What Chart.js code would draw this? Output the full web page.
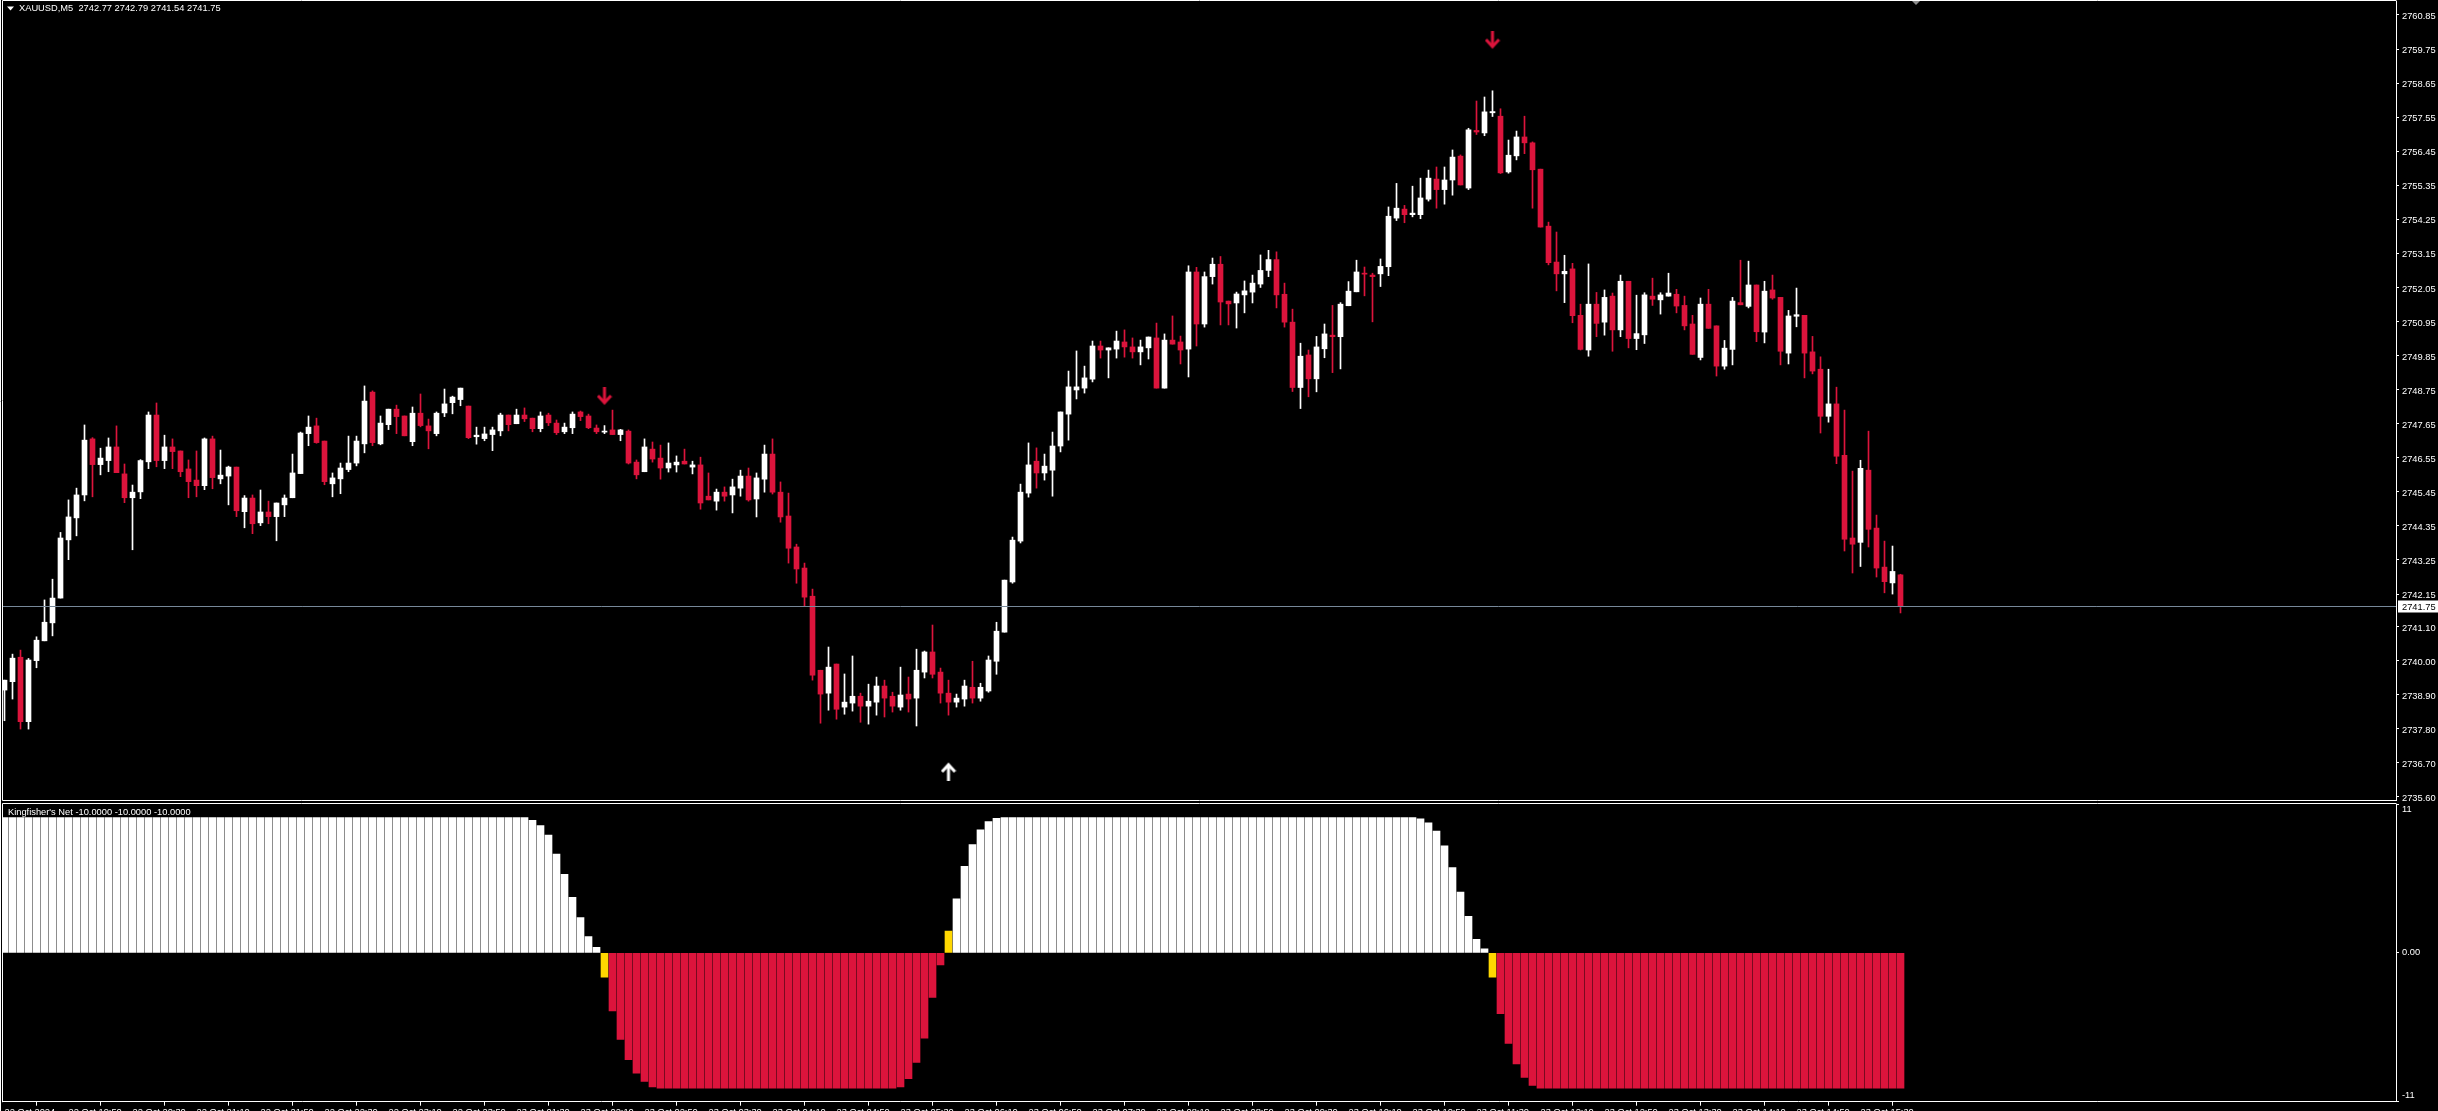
<!DOCTYPE html>
<html>
<head>
<meta charset="utf-8">
<script src="https://cdn.jsdelivr.net/npm/chart.js@4.4.1/dist/chart.umd.min.js"></script>
<style>
  html, body { margin: 0; padding: 0; background: #000; overflow: hidden; width: 2438px; height: 1111px; }
  #priceBox { position: absolute; left: 0; top: 0; width: 2438px; height: 803px; }
  #kfBox { position: absolute; left: 0; top: 803px; width: 2438px; height: 308px; }
</style>
</head>
<body>
<div id="priceBox"><canvas id="priceChart"></canvas></div>
<div id="kfBox"><canvas id="kfChart"></canvas></div>
<script>
"use strict";

// =========
// Data (M5)
// =========
const symbolTitle = "XAUUSD,M5  2742.77 2742.79 2741.54 2741.75";
const kfTitle = "Kingfisher's Net -10.0000 -10.0000 -10.0000";

const opens = [
  2739.05, 2739.32, 2740.11, 2738.03, 2740.00, 2740.64, 2741.22, 2742.02, 2743.90, 2744.61,
  2745.35, 2747.16, 2746.33, 2746.46, 2746.90, 2746.03, 2745.26, 2745.45, 2746.42, 2747.93,
  2746.46, 2746.90, 2746.77, 2746.19, 2745.83, 2745.65, 2747.16, 2745.87, 2745.96, 2746.25,
  2744.81, 2745.25, 2744.45, 2744.80, 2744.65, 2745.03, 2745.26, 2746.04, 2747.33, 2747.58,
  2747.09, 2745.71, 2745.87, 2746.17, 2746.38, 2747.00, 2748.67, 2747.00, 2747.62, 2748.12,
  2747.90, 2747.07, 2747.99, 2747.58, 2747.33, 2748.00, 2748.33, 2748.43, 2748.22, 2747.23,
  2747.17, 2747.30, 2747.42, 2747.93, 2747.65, 2747.93, 2747.83, 2747.49, 2747.93, 2747.67,
  2747.39, 2747.52, 2748.03, 2747.90, 2747.51, 2747.38, 2747.45, 2747.30, 2747.41, 2746.41,
  2746.10, 2746.83, 2746.54, 2746.22, 2746.32, 2746.44, 2746.25, 2746.32, 2745.31, 2745.15,
  2745.44, 2745.35, 2745.57, 2745.96, 2745.22, 2745.86, 2746.67, 2745.44, 2744.67, 2743.67,
  2742.99, 2742.08, 2739.69, 2738.95, 2739.89, 2738.50, 2738.63, 2738.85, 2738.53, 2738.66,
  2739.18, 2738.85, 2738.50, 2738.92, 2738.79, 2739.63, 2740.28, 2739.63, 2738.95, 2738.66,
  2738.76, 2739.14, 2738.79, 2739.02, 2739.98, 2740.92, 2742.54, 2743.86, 2745.41, 2746.44,
  2746.06, 2746.15, 2746.93, 2747.96, 2748.74, 2748.80, 2749.09, 2750.16, 2750.03, 2750.06,
  2750.29, 2750.13, 2749.97, 2750.10, 2750.42, 2748.80, 2750.35, 2750.29, 2750.06, 2752.55,
  2750.87, 2752.40, 2752.80, 2751.61, 2751.55, 2751.81, 2751.90, 2752.16, 2752.60, 2752.95,
  2751.83, 2750.93, 2748.82, 2749.87, 2749.10, 2750.07, 2750.51, 2750.46, 2751.46, 2751.91,
  2752.51, 2752.45, 2752.49, 2752.72, 2754.29, 2754.58, 2754.40, 2754.40, 2754.90, 2755.55,
  2755.21, 2755.52, 2756.29, 2755.26, 2757.12, 2757.04, 2757.69, 2757.58, 2755.78, 2756.30,
  2756.91, 2756.72, 2755.87, 2754.03, 2752.87, 2752.49, 2752.65, 2751.15, 2750.03, 2751.51,
  2750.93, 2751.77, 2750.68, 2752.25, 2750.40, 2750.52, 2751.77, 2751.65, 2751.77, 2751.83,
  2751.47, 2750.87, 2749.79, 2751.51, 2750.81, 2749.51, 2750.05, 2751.56, 2751.44, 2752.13,
  2750.61, 2751.97, 2751.73, 2749.93, 2751.12, 2751.15, 2749.97, 2749.41, 2747.89, 2748.29,
  2746.63, 2743.96, 2743.82, 2746.15, 2744.28, 2743.02, 2742.51, 2742.77
];

const highs = [
  2739.37, 2740.21, 2740.34, 2740.07, 2740.77, 2741.96, 2742.63, 2744.14, 2745.19, 2745.57,
  2747.61, 2747.20, 2746.86, 2747.19, 2747.58, 2746.35, 2745.67, 2746.49, 2748.03, 2748.32,
  2747.28, 2747.16, 2746.77, 2746.48, 2746.77, 2747.19, 2747.25, 2746.80, 2746.28, 2746.25,
  2745.33, 2745.35, 2745.51, 2745.15, 2745.09, 2745.35, 2746.67, 2747.38, 2747.90, 2747.83,
  2747.09, 2746.06, 2746.38, 2747.25, 2747.25, 2748.87, 2748.71, 2747.90, 2748.12, 2748.25,
  2747.90, 2748.19, 2748.61, 2747.80, 2748.03, 2748.77, 2748.54, 2748.80, 2748.22, 2747.54,
  2747.54, 2747.54, 2747.99, 2747.93, 2748.12, 2748.16, 2747.83, 2748.03, 2747.99, 2747.77,
  2747.67, 2748.03, 2748.06, 2747.96, 2747.61, 2747.59, 2748.09, 2747.47, 2747.45, 2746.48,
  2747.16, 2747.06, 2746.96, 2747.03, 2746.61, 2746.83, 2746.44, 2746.57, 2746.06, 2745.54,
  2745.61, 2745.86, 2746.15, 2746.22, 2746.06, 2746.96, 2747.16, 2745.77, 2745.41, 2743.76,
  2743.15, 2742.31, 2739.69, 2740.44, 2739.89, 2739.57, 2740.15, 2738.95, 2739.24, 2739.47,
  2739.37, 2738.98, 2739.79, 2739.47, 2740.37, 2740.31, 2741.15, 2739.76, 2739.37, 2738.92,
  2739.37, 2739.98, 2739.27, 2740.15, 2741.24, 2742.60, 2743.99, 2745.70, 2747.03, 2746.87,
  2746.67, 2747.38, 2748.03, 2749.35, 2750.00, 2749.51, 2750.32, 2750.32, 2750.10, 2750.64,
  2750.68, 2750.42, 2750.35, 2750.45, 2750.90, 2750.55, 2751.13, 2750.48, 2752.75, 2752.70,
  2752.55, 2753.00, 2753.05, 2751.61, 2751.90, 2752.26, 2752.45, 2753.10, 2753.25, 2753.20,
  2752.19, 2751.35, 2750.25, 2750.03, 2750.47, 2750.87, 2751.47, 2751.56, 2752.24, 2752.93,
  2752.71, 2752.51, 2752.97, 2754.65, 2755.41, 2754.70, 2755.32, 2755.58, 2755.84, 2755.94,
  2755.94, 2756.49, 2756.33, 2757.19, 2758.07, 2758.20, 2758.40, 2757.82, 2756.81, 2757.10,
  2757.58, 2756.75, 2755.87, 2754.16, 2753.84, 2753.09, 2752.83, 2751.51, 2752.81, 2751.89,
  2751.97, 2751.87, 2752.45, 2752.25, 2751.80, 2751.88, 2752.35, 2751.88, 2752.51, 2751.99,
  2751.77, 2751.15, 2751.71, 2751.99, 2750.81, 2750.34, 2751.73, 2752.93, 2752.90, 2752.13,
  2752.25, 2752.45, 2751.73, 2751.31, 2752.03, 2751.15, 2750.47, 2749.81, 2749.41, 2748.83,
  2748.09, 2746.12, 2746.47, 2747.41, 2744.70, 2743.86, 2743.70, 2742.79
];

const lows = [
  2738.06, 2738.76, 2737.79, 2737.79, 2739.77, 2740.64, 2740.80, 2742.02, 2743.26, 2744.03,
  2745.16, 2745.29, 2746.00, 2746.10, 2746.07, 2745.10, 2743.58, 2745.23, 2746.20, 2746.26,
  2746.20, 2746.20, 2745.94, 2745.26, 2745.29, 2745.52, 2745.55, 2745.71, 2745.03, 2744.65,
  2744.29, 2744.10, 2744.36, 2744.42, 2743.87, 2744.65, 2745.26, 2746.04, 2746.94, 2747.02,
  2745.68, 2745.29, 2745.39, 2746.10, 2746.29, 2746.71, 2746.94, 2746.97, 2747.46, 2747.33,
  2747.26, 2746.94, 2747.55, 2746.84, 2747.26, 2747.88, 2747.97, 2748.23, 2747.17, 2746.99,
  2747.10, 2746.78, 2747.26, 2747.42, 2747.65, 2747.72, 2747.39, 2747.39, 2747.59, 2747.30,
  2747.33, 2747.33, 2747.75, 2747.49, 2747.33, 2747.33, 2747.30, 2747.10, 2746.35, 2745.87,
  2746.10, 2746.41, 2745.86, 2746.09, 2746.09, 2746.35, 2746.03, 2744.89, 2745.19, 2744.86,
  2745.15, 2744.77, 2745.31, 2745.15, 2744.64, 2745.44, 2745.38, 2744.47, 2743.15, 2742.50,
  2741.76, 2739.37, 2737.98, 2738.40, 2738.11, 2738.27, 2738.37, 2738.01, 2737.95, 2738.24,
  2738.18, 2738.34, 2738.40, 2738.34, 2737.89, 2739.44, 2739.44, 2738.63, 2738.24, 2738.50,
  2738.53, 2738.63, 2738.69, 2738.98, 2739.56, 2740.92, 2742.50, 2743.80, 2745.28, 2745.57,
  2745.83, 2745.31, 2746.74, 2747.12, 2748.45, 2748.64, 2749.00, 2749.77, 2749.13, 2749.77,
  2749.80, 2749.77, 2749.55, 2749.74, 2748.80, 2748.80, 2750.22, 2749.58, 2749.16, 2750.16,
  2750.77, 2752.16, 2750.84, 2750.84, 2750.74, 2751.23, 2751.55, 2752.05, 2752.40, 2751.39,
  2750.77, 2748.69, 2748.14, 2748.52, 2748.68, 2749.78, 2749.30, 2749.42, 2751.46, 2751.91,
  2751.78, 2750.94, 2752.08, 2752.43, 2754.21, 2754.14, 2754.33, 2754.27, 2754.84, 2754.61,
  2754.74, 2755.03, 2755.36, 2755.21, 2756.99, 2756.95, 2757.57, 2755.73, 2755.74, 2756.17,
  2756.37, 2754.61, 2754.00, 2752.78, 2751.94, 2751.56, 2750.91, 2750.03, 2749.83, 2750.46,
  2750.51, 2749.99, 2750.46, 2750.10, 2750.04, 2750.24, 2751.47, 2751.19, 2751.77, 2751.23,
  2750.68, 2749.89, 2749.71, 2750.73, 2749.19, 2749.41, 2749.55, 2751.49, 2751.39, 2750.30,
  2750.26, 2751.67, 2749.55, 2749.58, 2750.78, 2749.13, 2749.26, 2747.35, 2747.70, 2746.36,
  2743.54, 2742.83, 2743.04, 2743.67, 2742.70, 2742.19, 2742.15, 2741.54
];

const closes = [
  2739.37, 2740.08, 2738.03, 2740.02, 2740.66, 2741.24, 2742.02, 2743.96, 2744.64, 2745.35,
  2747.12, 2746.33, 2746.54, 2746.90, 2746.07, 2745.26, 2745.44, 2746.46, 2747.93, 2746.46,
  2746.90, 2746.75, 2746.10, 2745.78, 2745.65, 2747.16, 2745.91, 2745.99, 2746.25, 2744.84,
  2745.25, 2744.42, 2744.80, 2744.65, 2745.09, 2745.25, 2746.06, 2747.35, 2747.54, 2747.04,
  2745.78, 2745.90, 2746.22, 2746.38, 2747.09, 2748.38, 2747.04, 2747.67, 2748.12, 2747.88,
  2747.26, 2747.99, 2747.59, 2747.42, 2747.99, 2748.29, 2748.51, 2748.80, 2747.20, 2747.28,
  2747.32, 2747.45, 2747.93, 2747.62, 2747.93, 2747.81, 2747.49, 2747.90, 2747.68, 2747.36,
  2747.54, 2747.96, 2747.88, 2747.52, 2747.39, 2747.40, 2747.30, 2747.45, 2746.38, 2746.00,
  2746.90, 2746.51, 2746.22, 2746.38, 2746.41, 2746.35, 2746.32, 2745.09, 2745.19, 2745.44,
  2745.31, 2745.61, 2745.96, 2745.19, 2745.90, 2746.67, 2745.44, 2744.64, 2743.63, 2742.96,
  2742.05, 2739.53, 2738.92, 2739.79, 2738.43, 2738.66, 2738.85, 2738.53, 2738.69, 2739.18,
  2738.79, 2738.53, 2738.89, 2738.76, 2739.69, 2740.28, 2739.56, 2738.95, 2738.66, 2738.79,
  2739.18, 2738.79, 2739.14, 2740.02, 2740.95, 2742.60, 2743.89, 2745.44, 2746.32, 2746.06,
  2746.28, 2746.93, 2748.03, 2748.84, 2748.84, 2749.13, 2750.16, 2750.03, 2750.10, 2750.32,
  2750.13, 2749.97, 2750.13, 2750.45, 2748.80, 2750.35, 2750.22, 2750.03, 2752.55, 2750.87,
  2752.40, 2752.80, 2751.58, 2751.52, 2751.84, 2751.94, 2752.19, 2752.60, 2752.95, 2751.81,
  2750.93, 2748.82, 2749.83, 2749.10, 2750.13, 2750.55, 2750.46, 2751.51, 2751.93, 2752.55,
  2752.48, 2752.40, 2752.73, 2754.35, 2754.61, 2754.40, 2754.45, 2754.94, 2755.58, 2755.21,
  2755.52, 2756.26, 2755.36, 2757.14, 2757.07, 2757.72, 2757.73, 2755.75, 2756.32, 2756.91,
  2756.72, 2755.85, 2754.00, 2752.85, 2752.49, 2752.57, 2751.14, 2750.05, 2751.51, 2750.89,
  2751.73, 2750.68, 2752.25, 2750.40, 2750.56, 2751.81, 2751.67, 2751.81, 2751.87, 2751.45,
  2750.81, 2749.89, 2751.51, 2750.73, 2749.51, 2750.09, 2751.61, 2751.49, 2752.13, 2750.62,
  2751.93, 2751.71, 2749.99, 2751.13, 2751.17, 2749.93, 2749.35, 2747.89, 2748.29, 2746.60,
  2743.92, 2743.76, 2746.21, 2744.24, 2742.99, 2742.55, 2742.88, 2741.75
];

// Kingfisher's Net histogram, one value per bar
const kfValues = [
  10, 10, 10, 10, 10, 10, 10, 10, 10, 10,
  10, 10, 10, 10, 10, 10, 10, 10, 10, 10,
  10, 10, 10, 10, 10, 10, 10, 10, 10, 10,
  10, 10, 10, 10, 10, 10, 10, 10, 10, 10,
  10, 10, 10, 10, 10, 10, 10, 10, 10, 10,
  10, 10, 10, 10, 10, 10, 10, 10, 10, 10,
  10, 10, 10, 10, 10, 10, 9.8, 9.4, 8.7, 7.3,
  5.8, 4.1, 2.6, 1.2, 0.4, -1.8, -4.3, -6.4, -7.9, -8.9,
  -9.5, -9.9, -10, -10, -10, -10, -10, -10, -10, -10,
  -10, -10, -10, -10, -10, -10, -10, -10, -10, -10,
  -10, -10, -10, -10, -10, -10, -10, -10, -10, -10,
  -10, -10, -9.9, -9.3, -8.1, -6.3, -3.3, -0.9, 1.6, 4.0,
  6.4, 8.0, 9.1, 9.7, 9.95, 10, 10, 10, 10, 10,
  10, 10, 10, 10, 10, 10, 10, 10, 10, 10,
  10, 10, 10, 10, 10, 10, 10, 10, 10, 10,
  10, 10, 10, 10, 10, 10, 10, 10, 10, 10,
  10, 10, 10, 10, 10, 10, 10, 10, 10, 10,
  10, 10, 10, 10, 10, 10, 10, 9.9, 9.6, 9.0,
  7.9, 6.3, 4.5, 2.7, 1.0, 0.3, -1.8, -4.5, -6.7, -8.2,
  -9.2, -9.8, -10, -10, -10, -10, -10, -10, -10, -10,
  -10, -10, -10, -10, -10, -10, -10, -10, -10, -10,
  -10, -10, -10, -10, -10, -10, -10, -10, -10, -10,
  -10, -10, -10, -10, -10, -10, -10, -10, -10, -10,
  -10, -10, -10, -10, -10, -10, -10, -10
];
const kfSignalBars = [75, 118, 186];   // bars painted yellow (sign change)

// signal arrows
const sellArrowBars = [75, 186];
const sellArrowPrices = [2748.54, 2760.04];
const buyArrowBars = [118];
const buyArrowPrices = [2736.43];

// axis ticks
const priceTicks = [
  2760.85, 2759.75, 2758.65, 2757.55, 2756.45, 2755.35, 2754.25, 2753.15,
  2752.05, 2750.95, 2749.85, 2748.75, 2747.65, 2746.55, 2745.45, 2744.35,
  2743.25, 2742.15, 2741.10, 2740.00, 2738.90, 2737.80, 2736.70, 2735.60
];
const kfTicks = [11, 0, -11];
const kfTickLabels = ["11", "0.00", "-11"];
const timeTickBars = [
  0, 8, 16, 24, 32, 40, 48, 56, 64, 72, 80, 88, 96, 104, 112,
  120, 128, 136, 144, 152, 160, 168, 176, 184, 192, 200, 208, 216, 224, 232
];
const timeTickLabels = [
  "22 Oct 2024", "22 Oct 19:50", "22 Oct 20:30", "22 Oct 21:10", "22 Oct 21:50",
  "22 Oct 22:30", "22 Oct 23:10", "22 Oct 23:50", "23 Oct 01:30", "23 Oct 02:10",
  "23 Oct 02:50", "23 Oct 03:30", "23 Oct 04:10", "23 Oct 04:50", "23 Oct 05:30",
  "23 Oct 06:10", "23 Oct 06:50", "23 Oct 07:30", "23 Oct 08:10", "23 Oct 08:50",
  "23 Oct 09:30", "23 Oct 10:10", "23 Oct 10:50", "23 Oct 11:30", "23 Oct 12:10",
  "23 Oct 12:50", "23 Oct 13:30", "23 Oct 14:10", "23 Oct 14:50", "23 Oct 15:30"
];
const bidPrice = 2741.75;

// ======
// Styles
// ======
const BULL = "#ffffff";
const BEAR = "#dc143c";
const SIGNAL = "#ffd700";
const AXIS = "#ffffff";
const BID_LINE = "#778899";
const FONT = "'Liberation Sans', Arial, sans-serif";
const FONT_PX = 9.3;

// bar slots are 8px: first bar centre at x=4.5, price axis at x=2396
const X_MIN = -0.1875;
const X_MAX = 298.9375;

const barIdx = opens.map((_, i) => i);
const candleColors = barIdx.map((i) => (closes[i] >= opens[i] ? BULL : BEAR));
const kfColors = kfValues.map((v, i) =>
  kfSignalBars.includes(i) ? SIGNAL : v >= 0 ? BULL : BEAR,
);

const makeArrow = (color, down) => {
  const c = document.createElement("canvas");
  c.width = 16;
  c.height = 19;
  const g = c.getContext("2d");
  if (!down) {
    g.translate(0, 19);
    g.scale(1, -1);
  }
  g.strokeStyle = color;
  g.lineWidth = 3;
  g.lineJoin = "miter";
  g.beginPath();
  g.moveTo(8, 0);
  g.lineTo(8, 16);
  g.stroke();
  g.beginPath();
  g.moveTo(1.5, 9);
  g.lineTo(8, 16);
  g.lineTo(14.5, 9);
  g.stroke();
  return c;
};

// fixed axis width, no automatic label padding
const fixAxisWidth = (s) => {
  s.width = 42;
  s.paddingTop = 0;
  s.paddingBottom = 0;
};

// ================
// Drawing plugins
// ================
const priceFramePlugin = {
  id: "priceFrame",
  afterDraw(chart) {
    const { ctx, chartArea: a, scales } = chart;
    ctx.save();
    ctx.font = `${FONT_PX}px ${FONT}`;
    ctx.textBaseline = "middle";
    ctx.textAlign = "left";
    // price scale labels
    ctx.fillStyle = AXIS;
    priceTicks.forEach((v) => {
      ctx.fillText(v.toFixed(2), a.right + 6, scales.y.getPixelForValue(v) + 1.5);
    });
    // bid line
    const yb = Math.round(scales.y.getPixelForValue(bidPrice)) + 0.5;
    ctx.strokeStyle = BID_LINE;
    ctx.lineWidth = 1;
    ctx.beginPath();
    ctx.moveTo(a.left, yb);
    ctx.lineTo(a.right, yb);
    ctx.stroke();
    // frame
    ctx.strokeStyle = AXIS;
    ctx.beginPath();
    ctx.moveTo(0.5, 0);
    ctx.lineTo(0.5, chart.height);
    ctx.moveTo(a.left - 0.5, a.bottom + 0.5);
    ctx.lineTo(a.left - 0.5, a.top - 0.5);
    ctx.lineTo(a.right + 0.5, a.top - 0.5);
    ctx.moveTo(a.left - 0.5, a.bottom + 0.5);
    ctx.lineTo(a.right + 0.5, a.bottom + 0.5);
    ctx.stroke();
    // bid label
    ctx.fillStyle = "#ffffff";
    ctx.fillRect(a.right + 2, yb - 6, chart.width - a.right - 2, 12);
    ctx.fillStyle = "#000000";
    ctx.fillText(bidPrice.toFixed(2), a.right + 6, yb + 0.5);
    // title
    ctx.fillStyle = "#ffffff";
    ctx.beginPath();
    ctx.moveTo(7, 6.5);
    ctx.lineTo(14, 6.5);
    ctx.lineTo(10.5, 10.5);
    ctx.closePath();
    ctx.fill();
    ctx.fillText(symbolTitle, 19, 8.5);
    // chart shift marker
    ctx.fillStyle = "#8c8c8c";
    ctx.beginPath();
    ctx.moveTo(1912, 1);
    ctx.lineTo(1920, 1);
    ctx.lineTo(1916, 5);
    ctx.closePath();
    ctx.fill();
    ctx.restore();
  },
};

const kfFramePlugin = {
  id: "kfFrame",
  afterDraw(chart) {
    const { ctx, chartArea: a, scales } = chart;
    ctx.save();
    ctx.strokeStyle = AXIS;
    ctx.lineWidth = 1;
    ctx.beginPath();
    ctx.moveTo(0.5, 0);
    ctx.lineTo(0.5, chart.height);
    ctx.moveTo(a.left - 0.5, a.bottom + 0.5);
    ctx.lineTo(a.left - 0.5, a.top - 0.5);
    ctx.lineTo(a.right + 0.5, a.top - 0.5);
    ctx.stroke();
    ctx.font = `${FONT_PX}px ${FONT}`;
    ctx.fillStyle = "#000000";
    const tw = ctx.measureText(kfTitle).width;
    ctx.fillRect(a.left, a.top, tw + 8, 12);
    ctx.fillStyle = "#ffffff";
    ctx.textAlign = "left";
    ctx.textBaseline = "middle";
    ctx.fillText(kfTitle, 8, a.top + 8);
    // indicator scale labels
    kfTicks.forEach((v, k) => {
      let y = scales.y.getPixelForValue(v);
      if (k === 0) y += 5;
      else if (k === kfTicks.length - 1) y -= 6;
      ctx.fillText(kfTickLabels[k], a.right + 6, y);
    });
    ctx.restore();
  },
};

Chart.defaults.font.family = FONT;
Chart.defaults.font.size = FONT_PX;
Chart.defaults.color = AXIS;

// ===========
// Price chart
// ===========
new Chart(document.getElementById("priceChart"), {
  type: "bar",
  data: {
    datasets: [
      {
        label: "body",
        data: barIdx.map((i) => ({ x: i, y: [opens[i], closes[i]] })),
        backgroundColor: candleColors,
        borderWidth: 0,
        barThickness: 5,
        minBarLength: 1,
        grouped: false,
      },
      {
        label: "wick",
        data: barIdx.map((i) => ({ x: i, y: [lows[i], highs[i]] })),
        backgroundColor: candleColors,
        borderWidth: 0,
        barThickness: 1,
        minBarLength: 1,
        grouped: false,
      },
      {
        type: "scatter",
        label: "sell",
        data: sellArrowBars.map((b, k) => ({ x: b, y: sellArrowPrices[k] })),
        pointStyle: makeArrow(BEAR, true),
      },
      {
        type: "scatter",
        label: "buy",
        data: buyArrowBars.map((b, k) => ({ x: b, y: buyArrowPrices[k] })),
        pointStyle: makeArrow(BULL, false),
      },
    ],
  },
  options: {
    responsive: true,
    maintainAspectRatio: false,
    animation: false,
    devicePixelRatio: 1,
    layout: { autoPadding: false, padding: { left: 3, top: 1, right: 0, bottom: 3 } },
    plugins: { legend: { display: false }, tooltip: { enabled: false } },
    scales: {
      x: { type: "linear", display: false, min: X_MIN, max: X_MAX, offset: false },
      y: {
        position: "right",
        min: 2735.5,
        max: 2761.3,
        afterFit: fixAxisWidth,
        afterBuildTicks: (s) => { s.ticks = priceTicks.map((v) => ({ value: v })); },
        ticks: { display: false },
        grid: { drawOnChartArea: false, tickLength: 3, tickColor: AXIS },
        border: { color: AXIS },
      },
    },
  },
  plugins: [priceFramePlugin],
});

// =====================
// Kingfisher's Net pane
// =====================
new Chart(document.getElementById("kfChart"), {
  type: "bar",
  data: {
    datasets: [
      {
        label: "Kingfisher's Net",
        data: kfValues.map((v, i) => ({ x: i, y: v })),
        backgroundColor: kfColors,
        borderWidth: 0,
        barThickness: 7,
        grouped: false,
      },
    ],
  },
  options: {
    responsive: true,
    maintainAspectRatio: false,
    animation: false,
    devicePixelRatio: 1,
    layout: { autoPadding: false, padding: { left: 3, top: 1, right: 0, bottom: 0 } },
    plugins: { legend: { display: false }, tooltip: { enabled: false } },
    scales: {
      x: {
        type: "linear",
        min: X_MIN,
        max: X_MAX,
        offset: false,
        afterFit: (s) => {
          s.height = 9.3;
          s.paddingLeft = 0;
          s.paddingRight = 0;
        },
        afterBuildTicks: (s) => { s.ticks = timeTickBars.map((v) => ({ value: v })); },
        ticks: {
          autoSkip: false,
          maxRotation: 0,
          minRotation: 0,
          align: "start",
          padding: 1,
          color: AXIS,
          callback: (v) => timeTickLabels[timeTickBars.indexOf(v)],
        },
        grid: { drawOnChartArea: false, tickLength: 4, tickColor: AXIS },
        border: { color: AXIS },
      },
      y: {
        position: "right",
        min: -11,
        max: 11,
        afterFit: fixAxisWidth,
        afterBuildTicks: (s) => { s.ticks = kfTicks.map((v) => ({ value: v })); },
        ticks: { display: false },
        grid: { drawOnChartArea: false, tickLength: 3, tickColor: AXIS },
        border: { color: AXIS },
      },
    },
  },
  plugins: [kfFramePlugin],
});
</script>
</body>
</html>
